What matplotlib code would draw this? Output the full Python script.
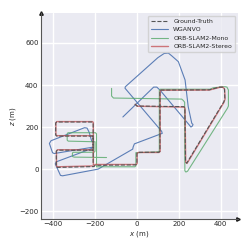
import matplotlib
matplotlib.use("Agg")
import matplotlib.pyplot as plt
import seaborn as sns

sns.set_theme(style="darkgrid")
plt.rcParams['font.family'] = ['DejaVu Sans']

# Ground truth trajectory (x, z) in metres
gt_x = [-10, 0, 225, 229, 232, 238, 245, 415, 420, 418, 410, 395, 345, 115, 110, 110, 105, 5, 0, 0, -5,
        -200, -205, -380, -385, -385, -380, -213, -209, -209, -213, -383, -388, -388, -383, -213, -209, -209]
gt_z = [310, 300, 297, 290, 35, 28, 40, 320, 335, 382, 390, 390, 377, 376, 370, 85, 80, 80, 75, 25, 20,
        18, 12, 8, 13, 85, 90, 90, 95, 152, 157, 157, 162, 219, 224, 224, 219, 20]

# ORB-SLAM2 stereo
st_x = [-8, 2, 226, 230, 233, 239, 246, 416, 421, 419, 411, 396, 346, 116, 111, 111, 106, 6, 1, 1, -4,
        -200, -205, -380, -384, -384, -379, -212, -208, -208, -212, -382, -387, -387, -382, -212, -208, -208]
st_z = [308, 299, 295, 288, 33, 27, 38, 318, 333, 380, 389, 389, 376, 375, 369, 84, 79, 79, 74, 26, 22,
        22, 15, 11, 16, 87, 92, 92, 97, 154, 159, 159, 164, 221, 226, 226, 221, 22]

# ORB-SLAM2 mono
mo_x = [-121, -121, -112, 214, 222, 228, 229, 234, 242, 432, 437, 437, 430, 421, 365, 349, 112, 107, 107,
        102, -5, -5, -10, -193, -193, -198, -329, -333, -333, -328, -200, -200, -205, -305, -308, -308, -300, -145]
mo_z = [384, 348, 338, 333, 326, 318, -8, -14, -10, 289, 300, 376, 390, 392, 387, 380, 380, 375, 87,
        82, 78, 15, 11, 11, 168, 173, 173, 168, 138, 133, 130, 85, 80, 80, 75, 60, 57, 55]

# WGANVO
wg_x = [-215, -228, -238, -250, -410, -418, -403, -395, -212, -220, -384, -390, -365, -355, -195, -185,
        -20, -18, -12, 121, 118, -57, -55, 100, 130, 150, 165, 198, 230, 245, 262, 268, 265, 258, 250,
        110, 95, 80, -67]
wg_z = [130, 175, 195, 197, 135, 122, 78, 74, 104, 96, 35, 25, -30, -32, -2, 0,
        95, 105, 120, 170, 180, 385, 392, 530, 550, 552, 540, 511, 424, 297, 218, 212, 205, 200, 210,
        376, 390, 390, 248]

x_ticks = [-400, -200, 0, 200, 400]
z_ticks = [-200, 0, 200, 400, 600]

fig = plt.figure(figsize=(2.49, 2.49), dpi=100)
ax = fig.add_axes([0.163, 0.12, 0.793, 0.829])

ax.plot(gt_x, gt_z, color='#555555', ls='--', lw=0.8, label='Ground-Truth', zorder=5)
ax.plot(wg_x, wg_z, color='#4c72b0', lw=0.8, alpha=0.9, label='WGANVO', zorder=3)
ax.plot(mo_x, mo_z, color='#55a868', lw=0.8, alpha=0.8, label='ORB-SLAM2-Mono', zorder=3)
ax.plot(st_x, st_z, color='#c44e52', lw=1.0, alpha=0.75, label='ORB-SLAM2-Stereo', zorder=4)

ax.set_xlim(-460, 483)
ax.set_ylim(-238, 744)
ax.set_xticks(x_ticks)
ax.set_yticks(z_ticks)
ax.tick_params(labelsize=5, pad=1.5, length=0)
ax.set_xlabel('$x$ (m)', fontsize=5, labelpad=1)
ax.set_ylabel('$z$ (m)', fontsize=5, labelpad=1)

for s in ['top', 'right']:
    ax.spines[s].set_visible(False)
for s in ['left', 'bottom']:
    ax.spines[s].set_visible(True)
    ax.spines[s].set_color('#555555')
    ax.spines[s].set_linewidth(0.8)
ax.plot(1, 0, '>k', ms=2.5, transform=ax.transAxes, clip_on=False)
ax.plot(0, 1, '^k', ms=2.5, transform=ax.transAxes, clip_on=False)

leg = ax.legend(loc='upper right', fontsize=4.4, frameon=True, handlelength=2.8,
                borderpad=0.5, labelspacing=0.5, framealpha=0.8)

fig.savefig('out.png', dpi=100)
